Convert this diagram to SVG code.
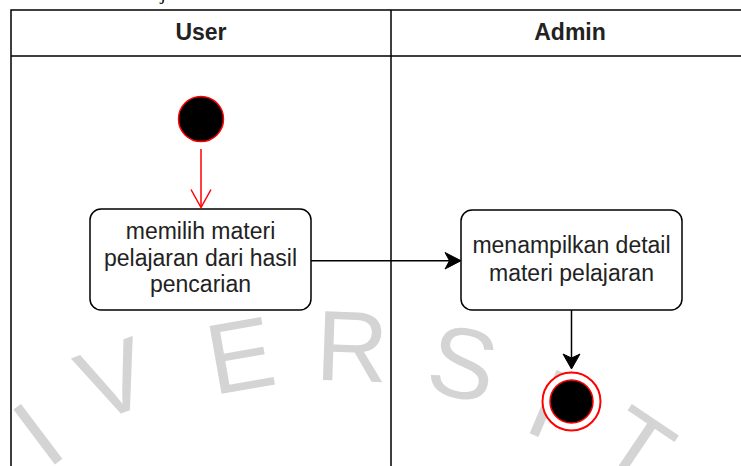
<svg xmlns="http://www.w3.org/2000/svg" width="741" height="466" viewBox="0 0 741 466">
  <style>
    .wm { font-family: "Liberation Sans", Arial, sans-serif; font-size: 100px; fill: #d4d4d4; text-anchor: middle; }
    .lane { fill: none; stroke: #000; stroke-width: 1.5; }
    .hdr { font-family: "Liberation Sans", Arial, sans-serif; font-size: 23px; font-weight: bold; fill: #222; text-anchor: middle; }
    .act { fill: #fff; stroke: #000; stroke-width: 1.5; }
    .lbl { font-family: "Liberation Sans", Arial, sans-serif; font-size: 23px; fill: #222; text-anchor: middle; }
    .edge { fill: none; stroke: #000; stroke-width: 1.5; }
    .redge { fill: none; stroke: #ff0000; stroke-width: 1.5; }
  </style>
  <rect x="0" y="0" width="741" height="466" fill="#fff"/>
  <text x="163" y="-1" font-family="Liberation Serif, serif" font-size="20" fill="#000" text-anchor="middle">j</text>

  <g id="watermark">
    <text class="wm" transform="translate(37,433) rotate(-37)" y="36">I</text>
    <text class="wm" transform="translate(113,378) rotate(-20)" y="36">V</text>
    <text class="wm" transform="translate(240,354) rotate(-10)" y="36">E</text>
    <text class="wm" transform="translate(352,345) rotate(2)" y="36">R</text>
    <text class="wm" transform="translate(463,362) rotate(12)" y="36">S</text>
    <text class="wm" transform="translate(548,402) rotate(23)" y="36">I</text>
    <text class="wm" transform="translate(637,447) rotate(34)" y="36">T</text>
  </g>

  <g id="lanes">
    <path class="lane" d="M11,466 L11,10 L745,10 M11,56 L745,56 M391,10 L391,466"/>
    <text class="hdr" x="201" y="40">User</text>
    <text class="hdr" x="570" y="40">Admin</text>
  </g>

  <g id="start">
    <circle cx="201" cy="119" r="22.5" fill="#000" stroke="#ff0000" stroke-width="1.5"/>
  </g>

  <g id="act1">
    <rect class="act" x="90" y="209" width="221" height="101" rx="11"/>
    <text class="lbl" x="200.5" y="239">memilih materi</text>
    <text class="lbl" x="200.5" y="266">pelajaran dari hasil</text>
    <text class="lbl" x="200.5" y="292">pencarian</text>
  </g>

  <g id="act2">
    <rect class="act" x="461" y="210" width="221" height="100" rx="11"/>
    <text class="lbl" x="571.5" y="253">menampilkan detail</text>
    <text class="lbl" x="571.5" y="281">materi pelajaran</text>
  </g>

  <g id="end">
    <circle cx="571.5" cy="401.5" r="29" fill="#fff" stroke="#ff0000" stroke-width="2"/>
    <circle cx="571.5" cy="401.5" r="21.5" fill="#000" stroke="#ff0000" stroke-width="1.5"/>
  </g>

  <g id="connectors">
    <path class="redge" d="M201,149 L201,207"/>
    <path class="redge" d="M191,189.5 L201,207.5 L211,189.5"/>
    <path class="edge" d="M311,260.7 L450,260.7"/>
    <path d="M461,260.7 L445,252.5 L449.5,260.7 L445,269 Z" fill="#000" stroke="#000" stroke-width="1"/>
    <path class="edge" d="M571.5,310 L571.5,358"/>
    <path d="M571.5,369 L563,354 L571.5,358 L580,354 Z" fill="#000" stroke="#000" stroke-width="1"/>
  </g>
</svg>
